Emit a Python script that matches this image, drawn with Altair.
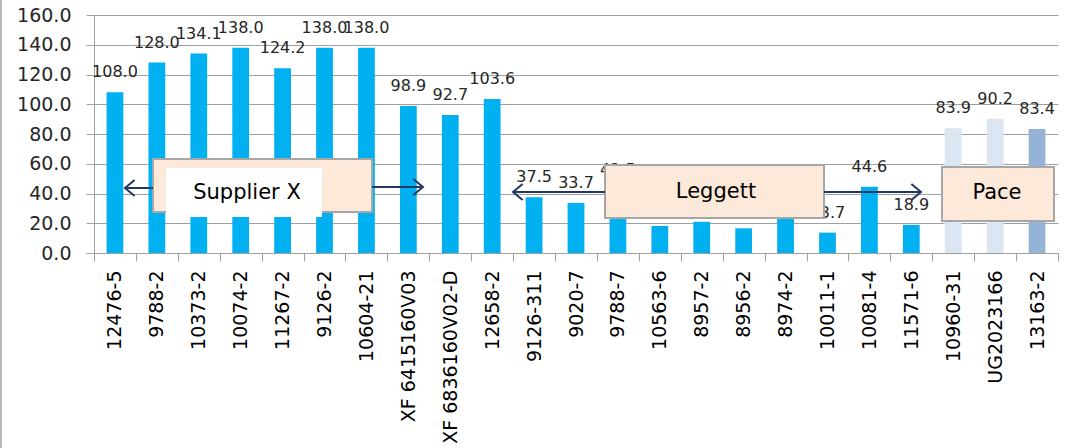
import altair as alt
import pandas as pd

# Part numbers along the x axis, grouped by supplier
parts = [
    "12476-5", "9788-2", "10373-2", "10074-2", "11267-2", "9126-2", "10604-21",
    "XF 6415160V03", "XF 6836160V02-D", "12658-2",
    "9126-311", "9020-7", "9788-7", "10563-6", "8957-2", "8956-2", "8974-2",
    "10011-1", "10081-4", "11571-6",
    "10960-31", "UG2023166", "13163-2",
]
values = [
    108.0, 128.0, 134.1, 138.0, 124.2, 138.0, 138.0, 98.9, 92.7, 103.6,
    37.5, 33.7, 42.5, 18.2, 21.0, 16.6, 25.9, 13.7, 44.6, 18.9,
    83.9, 90.2, 83.4,
]
bar_colors = ["#00b0f0"] * 20 + ["#dce6f2", "#dce6f2", "#95b3d7"]

FONT = "DejaVu Sans"
W, H = 964, 238
PAD_L, PAD_T = 94, 15

bars_df = pd.DataFrame({"part": parts, "value": values, "color": bar_colors})

x_scale = alt.Scale(paddingInner=0, paddingOuter=0)
y_scale = alt.Scale(domain=[0, 160], nice=False)

x_enc = alt.X(
    "part:N",
    sort=parts,
    scale=x_scale,
    axis=alt.Axis(
        title=None,
        labelAngle=270,
        labelAlign="right",
        labelBaseline="middle",
        labelFont=FONT,
        labelFontSize=19,
        labelColor="#000000",
        labelPadding=9,
        labelLimit=400,
        labelOverlap=False,
        tickBand="extent",
        tickSize=8,
        tickColor="#a0a0a0",
        domainColor="#a0a0a0",
        grid=False,
    ),
)
y_enc = alt.Y(
    "value:Q",
    scale=y_scale,
    axis=alt.Axis(
        title=None,
        values=[0, 20, 40, 60, 80, 100, 120, 140, 160],
        format=".1f",
        labelFont=FONT,
        labelFontSize=19,
        labelColor="#262626",
        labelPadding=15,
        tickSize=8,
        tickColor="#a0a0a0",
        domainColor="#a0a0a0",
        gridColor="#a0a0a0",
        grid=True,
    ),
)

bars = alt.Chart(bars_df).mark_bar(width=alt.RelativeBandSize(0.4)).encode(
    x=x_enc, y=y_enc, color=alt.Color("color:N", scale=None)
)
labels = alt.Chart(bars_df).mark_text(
    dy=-15, baseline="alphabetic", align="center", font=FONT, fontSize=16, color="#262626"
).encode(
    x=alt.X("part:N", sort=parts, scale=x_scale, axis=None),
    y=alt.Y("value:Q", scale=y_scale, axis=None),
    text=alt.Text("value:Q", format=".1f"),
)

# Callout boxes (pixel positions inside the plot area)
boxes_df = pd.DataFrame({
    "x0": [153, 605, 942], "x1": [372, 824, 1054],
    "y0": [159, 165, 167], "y1": [212, 218, 221],
})
for c in ("x0", "x1"):
    boxes_df[c] -= PAD_L
for c in ("y0", "y1"):
    boxes_df[c] -= PAD_T

def px(field, ch):
    if ch == "x":
        return alt.X(field, scale=None, axis=None)
    return alt.Y(field, scale=None, axis=None)

boxes = alt.Chart(boxes_df).mark_rect(
    fill="#fde9d9", stroke="#a6a6a6", strokeWidth=2
).encode(x=px("x0:Q", "x"), x2="x1:Q", y=px("y0:Q", "y"), y2="y1:Q")

white_df = pd.DataFrame({"x0": [166 - PAD_L], "x1": [322 - PAD_L],
                         "y0": [168 - PAD_T], "y1": [217 - PAD_T]})
white = alt.Chart(white_df).mark_rect(fill="#ffffff").encode(
    x=px("x0:Q", "x"), x2="x1:Q", y=px("y0:Q", "y"), y2="y1:Q"
)

names_df = pd.DataFrame({
    "name": ["Supplier X", "Leggett", "Pace"],
    "x": [247 - PAD_L, 716 - PAD_L, 997 - PAD_L],
    "y": [193 - PAD_T, 192 - PAD_T, 193 - PAD_T],
})
names = alt.Chart(names_df).mark_text(
    font=FONT, fontSize=21, color="#000000", align="center", baseline="middle"
).encode(x=px("x:Q", "x"), y=px("y:Q", "y"), text="name:N")

# Arrows: shafts and open chevron heads
shafts_df = pd.DataFrame({
    "x0": [125, 372, 513, 824], "x1": [153, 423, 605, 921],
    "y": [188, 187, 192, 192],
})
shafts_df["x0"] -= PAD_L
shafts_df["x1"] -= PAD_L
shafts_df["y"] -= PAD_T
shafts = alt.Chart(shafts_df).mark_rule(color="#1f3864", strokeWidth=2).encode(
    x=px("x0:Q", "x"), x2="x1:Q", y=px("y:Q", "y")
)

heads_df = pd.DataFrame({
    "x": [125, 423, 513, 921], "y": [188, 187, 192, 192],
    "ang": [180, 0, 180, 0],
})
heads_df["x"] -= PAD_L
heads_df["y"] -= PAD_T
heads = alt.Chart(heads_df).mark_point(
    shape="M -1.2 -1 L 0 0 L -1.2 1", size=256, filled=False,
    stroke="#1f3864", strokeWidth=2, opacity=1,
).encode(x=px("x:Q", "x"), y=px("y:Q", "y"), angle=alt.Angle("ang:Q", scale=None))

frame = alt.Chart(pd.DataFrame({"k": [0]})).mark_rule(color="#a0a0a0", strokeWidth=1.5).encode(
    x=alt.value(-PAD_L + 1), y=alt.value(-PAD_T), y2=alt.value(448 - PAD_T)
)

chart = alt.layer(
    bars, labels, boxes, white, names, shafts, heads, frame
).resolve_scale(x="independent", y="independent").properties(
    width=W, height=H,
    autosize=alt.AutoSizeParams(type="none"),
    padding={"left": PAD_L, "top": PAD_T, "right": 1067 - PAD_L - W, "bottom": 448 - PAD_T - H},
    background="#ffffff",
).configure_view(stroke=None)

chart.save("out.html", embed_options={"renderer": "svg", "actions": False})
